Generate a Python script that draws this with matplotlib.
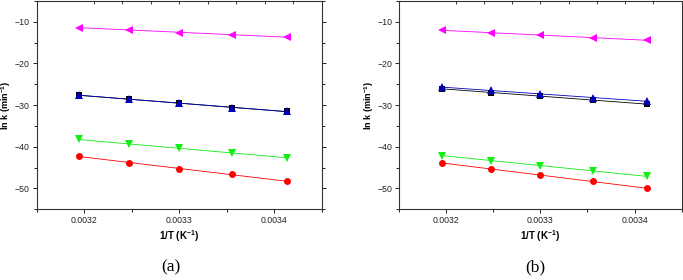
import numpy as np
import matplotlib
matplotlib.use("Agg")
import matplotlib.pyplot as plt
from matplotlib.ticker import MultipleLocator

plt.rcParams['font.family'] = ['Liberation Sans', 'DejaVu Sans']
plt.rcParams['mathtext.fontset'] = 'custom'
plt.rcParams['mathtext.rm'] = 'Liberation Sans'
plt.rcParams['mathtext.bf'] = 'Liberation Sans:bold'

# 1/T values (K^-1) for T = 313, 308, 303, 298, 293 K
inv_t = [0.003195, 0.003247, 0.003300, 0.003356, 0.003413]

# panel (a) ln k values
a_magenta = [-11.4, -12.0, -12.6, -13.1, -13.7]
a_black = [-27.6, -28.6, -29.6, -30.6, -31.5]
a_blue = [-27.6, -28.6, -29.6, -30.6, -31.5]
a_green = [-38.2, -39.4, -40.4, -41.5, -42.6]
a_red = [-42.3, -43.8, -45.3, -46.6, -48.3]

# panel (b) ln k values
b_magenta = [-12.1, -12.6, -13.2, -13.8, -14.5]
b_black = [-26.1, -27.0, -27.8, -28.8, -29.8]
b_blue = [-25.7, -26.5, -27.3, -28.2, -29.1]
b_green = [-42.1, -43.3, -44.5, -45.8, -47.1]
b_red = [-43.9, -45.3, -46.8, -48.3, -50.0]

styles = [
    ('#ff00ff', '<', 5.5),
    ('#000000', 's', 4.2),
    ('#0000bb', '^', 5.8),
    ('#11ee11', 'v', 5.5),
    ('#ff0000', 'o', 5.0),
]

fig = plt.figure(figsize=(6.83, 2.8), dpi=100)
ax_a = fig.add_axes([0.0537, 0.2525, 0.4173, 0.7445])
ax_b = fig.add_axes([0.5845, 0.2525, 0.4135, 0.7445])


def draw(ax, series):
    x = np.array(inv_t)
    for (color, marker, size), y in zip(styles, series):
        y = np.array(y)
        # linear fit line through the points
        k, b = np.polyfit(x, y, 1)
        ax.plot(x, k * x + b, color=color, lw=0.6, zorder=2)
        ax.plot(x, y, linestyle='none', marker=marker, color=color,
                markersize=size, markeredgewidth=0, zorder=3)
    ax.set_xlim(0.00315, 0.00345)
    ax.set_ylim(-55, -5)
    ax.xaxis.set_major_locator(MultipleLocator(0.0001))
    ax.xaxis.set_minor_locator(MultipleLocator(0.00005))
    ax.yaxis.set_major_locator(MultipleLocator(10))
    ax.yaxis.set_minor_locator(MultipleLocator(5))
    ax.set_xticks([0.0032, 0.0033, 0.0034])
    ax.set_xticklabels(['0.0032', '0.0033', '0.0034'])
    ax.tick_params(which='both', direction='out', labelsize=6.3, width=0.7,
                   pad=2, colors='#222222')
    ax.tick_params(which='major', length=3)
    ax.tick_params(which='minor', length=2)
    ax.tick_params(which='both', right=True)
    for s in ax.spines.values():
        s.set_linewidth(0.8)
        s.set_color('#333333')
    ax.set_xlabel(r'1/T (K$^{\mathbf{-1}}$)', fontsize=7, fontweight='bold',
                  labelpad=2)
    ax.set_ylabel(r'ln k (min$^{\mathbf{-1}}$)', fontsize=6.5,
                  fontweight='bold', labelpad=1)
    # top axis ticks
    top = ax.twiny()
    top.set_xlim(ax.get_xlim())
    top.set_xticks(np.arange(0.00321, 0.00345, 0.00003))
    top.tick_params(axis='x', direction='in', length=2, width=0.7,
                    labeltop=False, colors='#333333')
    for s in top.spines.values():
        s.set_visible(False)


draw(ax_a, [a_magenta, a_black, a_blue, a_green, a_red])
draw(ax_b, [b_magenta, b_black, b_blue, b_green, b_red])

fig.text(171 / 683, 1 - 267 / 280, '(a)', ha='center', va='center',
         fontsize=12.5, family='Liberation Serif')
fig.text(535 / 683, 1 - 267 / 280, '(b)', ha='center', va='center',
         fontsize=12.5, family='Liberation Serif')

fig.savefig('out.png', dpi=100)
